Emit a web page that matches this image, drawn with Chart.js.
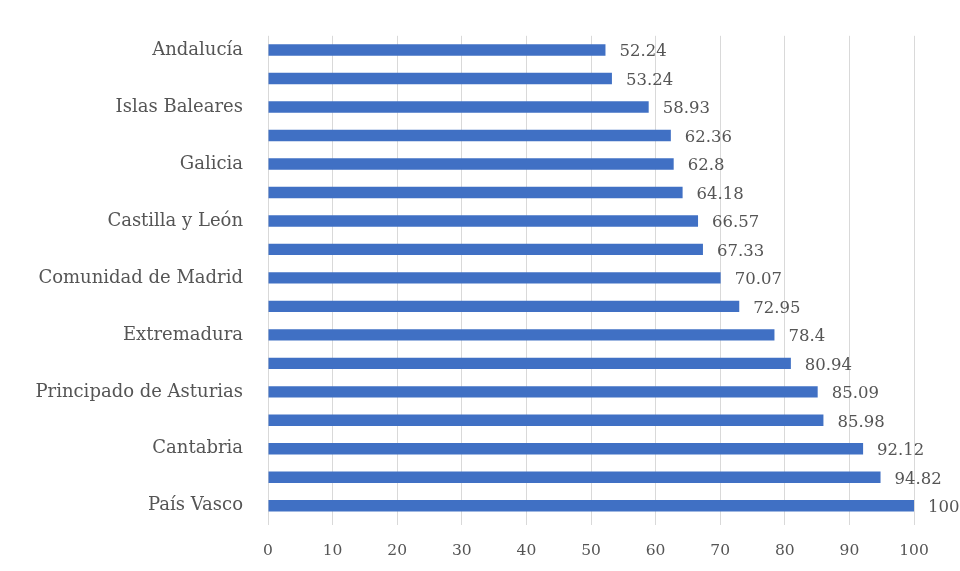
<!DOCTYPE html>
<html>
<head>
<meta charset="utf-8">
<script src="https://cdn.jsdelivr.net/npm/chart.js@4"></script>
<style>
  html, body { margin: 0; padding: 0; background: #fff; }
  #wrap { width: 960px; height: 571px; }
</style>
</head>
<body>
<div id="wrap"><canvas id="myChart"></canvas></div>
<script>
// regions, top to bottom (only every other one gets a visible label)
const regions = [
  'Andalucía', '', 'Islas Baleares', '', 'Galicia', '', 'Castilla y León', '',
  'Comunidad de Madrid', '', 'Extremadura', '', 'Principado de Asturias', '',
  'Cantabria', '', 'País Vasco'
];
const scores = [
  52.24, 53.24, 58.93, 62.36, 62.8, 64.18, 66.57, 67.33,
  70.07, 72.95, 78.4, 80.94, 85.09, 85.98, 92.12, 94.82, 100
];
const xTicks = [0, 10, 20, 30, 40, 50, 60, 70, 80, 90, 100];

const textColor = '#555555';
const fontFamily = '"DejaVu Serif", serif';

// writes the value just past the end of each bar
const valueLabels = {
  id: 'valueLabels',
  afterDatasetsDraw(chart) {
    const ctx = chart.ctx;
    const meta = chart.getDatasetMeta(0);
    ctx.save();
    ctx.font = '16.5px ' + fontFamily;
    ctx.fillStyle = textColor;
    ctx.textAlign = 'left';
    ctx.textBaseline = 'middle';
    meta.data.forEach((bar, i) => {
      ctx.fillText(String(scores[i]), bar.x + 14, bar.y + 2);
    });
    ctx.restore();
  }
};

new Chart(document.getElementById('myChart'), {
  type: 'bar',
  data: {
    labels: regions,
    datasets: [{
      data: scores,
      backgroundColor: '#4070C4',
      borderWidth: 0,
      categoryPercentage: 1,
      barPercentage: 0.4
    }]
  },
  plugins: [valueLabels],
  options: {
    indexAxis: 'y',
    responsive: true,
    maintainAspectRatio: false,
    animation: false,
    layout: { padding: { top: 34, right: 46, left: 0, bottom: 0 } },
    plugins: {
      legend: { display: false },
      tooltip: { enabled: false }
    },
    scales: {
      x: {
        min: 0,
        max: 100,
        afterBuildTicks: (scale) => { scale.ticks = xTicks.map(v => ({ value: v })); },
        afterFit: (scale) => { scale.height = 51; },
        grid: { color: '#d9d9d9', lineWidth: 1, drawTicks: true, tickLength: 5 },
        border: { display: false },
        ticks: {
          color: textColor,
          padding: 17,
          font: { family: fontFamily, size: 15.5 }
        }
      },
      y: {
        afterFit: (scale) => { scale.width = 268; },
        grid: { display: false, drawTicks: false },
        border: { display: false },
        ticks: {
          color: textColor,
          padding: 25,
          autoSkip: false,
          font: { family: fontFamily, size: 18 }
        }
      }
    }
  }
});
</script>
</body>
</html>
